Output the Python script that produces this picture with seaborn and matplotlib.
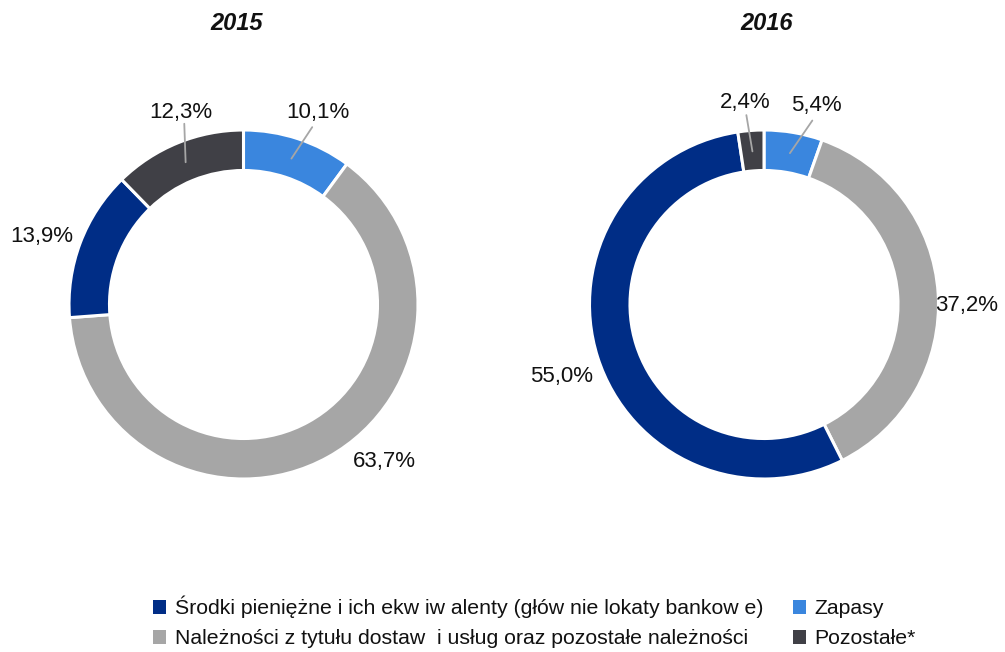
import numpy as np
import matplotlib
matplotlib.use("Agg")
import matplotlib.pyplot as plt
import seaborn as sns
from matplotlib.patches import Patch

sns.set_theme(style="white")
plt.rcParams['font.family'] = ['Liberation Sans', 'DejaVu Sans']

# ---- data ----
years = ["2015", "2016"]
categories = ["Zapasy",
              "Należności z tytułu dostaw  i usług oraz pozostałe należności",
              "Środki pieniężne i ich ekw iw alenty (głów nie lokaty bankow e)",
              "Pozostałe*"]
values_2015 = [10.1, 63.7, 13.9, 12.3]
values_2016 = [5.4, 37.2, 55.0, 2.4]
labels_2015 = ["10,1%", "63,7%", "13,9%", "12,3%"]
labels_2016 = ["5,4%", "37,2%", "55,0%", "2,4%"]

# ---- style / layout ----
colors = ["#3A86DE", "#A6A6A6", "#002D86", "#404046"]
leader = {"2015": [True, False, False, True], "2016": [True, False, False, True]}
angle_nudge = {"2015": [-3, 13, 2, -4], "2016": [-5, -4, 2, 1]}
label_r = {"2015": [1.18, 1.21, 1.22, 1.155], "2016": [1.18, 1.16, 1.23, 1.16]}

W, H = 1005, 652
fig = plt.figure(figsize=(W / 100, H / 100), dpi=100)
R = 174.5
centers = {"2015": (243.5, 304.5), "2016": (764, 304.5)}
series = {"2015": (values_2015, labels_2015), "2016": (values_2016, labels_2016)}

for yr in years:
    cx, cy = centers[yr]
    ax = fig.add_axes([(cx - R) / W, (H - cy - R) / H, 2 * R / W, 2 * R / H])
    vals, labs = series[yr]
    wedges, _ = ax.pie(vals, colors=colors, startangle=90, counterclock=False,
                       radius=1.0,
                       wedgeprops=dict(width=0.232, edgecolor="white", linewidth=2.2))
    ax.set_xlim(-1, 1)
    ax.set_ylim(-1, 1)
    ax.set_aspect("equal")
    ax.axis("off")
    for i, w in enumerate(wedges):
        mid = np.deg2rad((w.theta1 + w.theta2) / 2 + angle_nudge[yr][i])
        r = label_r[yr][i]
        tx, ty = r * np.cos(mid), r * np.sin(mid)
        if leader[yr][i]:
            amid = np.deg2rad((w.theta1 + w.theta2) / 2)
            ax.plot([0.88 * np.cos(amid), 1.09 * np.cos(mid)],
                    [0.88 * np.sin(amid), 1.09 * np.sin(mid)],
                    color="#A6A6A6", lw=1.3, clip_on=False)
        ax.text(tx, ty, labs[i], ha="center", va="center", fontsize=16,
                color="#111111", clip_on=False)
    fig.text(cx / W + (-0.007 if yr == "2015" else 0.003), 1 - 24 / H, yr,
             ha="center", va="center", fontsize=17, fontweight="bold",
             fontstyle="italic", color="#111111")

order = [2, 1, 0, 3]
handles = [Patch(facecolor=colors[i], edgecolor="none") for i in order]
leg = fig.legend(handles, [categories[i] for i in order], ncol=2,
                 loc="upper left", bbox_to_anchor=(153 / W, 1 - 596 / H),
                 frameon=False, fontsize=15.3, handlelength=0.62, handleheight=0.65,
                 handletextpad=0.4, columnspacing=1.4, labelspacing=0.5,
                 borderpad=0, borderaxespad=0)
for t in leg.get_texts():
    t.set_color("#111111")

fig.savefig("out.png", dpi=100)
